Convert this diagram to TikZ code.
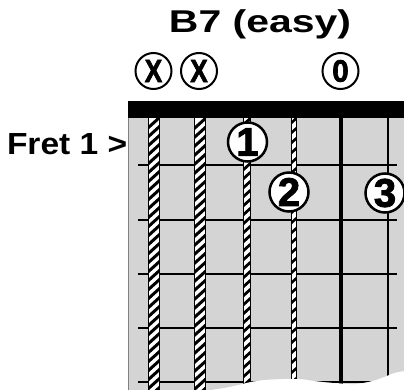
\documentclass[tikz,border=0pt]{standalone}
\usepackage{fontspec}
\setmainfont{Liberation Sans}
\newfontfamily\heavyfont{Liberation Sans Bold}[FakeBold=2.2]
\newfontfamily\boldtext{Liberation Sans Bold}
\definecolor{boardgray}{gray}{0.83}
\newcommand{\hatchstring}[4]{% x, width, period, linewidth
  \begin{scope}
    \clip (#1-#2/2,118) rectangle (#1+#2/2,392);
    \fill[white] (#1-#2/2,118) rectangle (#1+#2/2,392);
    \foreach \k in {0,...,55} {
      \draw[line width=#4] (#1-#2/2-1,118+\k*#3+0.9*#2+0.9) -- (#1+#2/2+1,118+\k*#3-0.9);
    }
  \end{scope}
  \draw[line width=1pt] (#1-#2/2,118) -- (#1-#2/2,392) (#1+#2/2,118) -- (#1+#2/2,392);
}
\begin{document}
\begin{tikzpicture}[x=1pt,y=-1pt,
  topmark/.style={circle,draw,line width=2pt,fill=white,minimum size=36pt,inner sep=0pt},
  finger/.style={circle,draw,line width=2.5pt,fill=white,minimum size=39pt,inner sep=0pt,font=\fontsize{40}{41}\heavyfont},
  fret/.style={line width=2pt},
  label/.style={inner sep=0pt,outer sep=0pt}]
\useasboundingbox (0,0) rectangle (404,390);
\fill[white] (0,0) rectangle (404,390);

% title and fret label
\node[label,anchor=base] (title) at (260,33) {\fontsize{31.5}{33}\boldtext\scalebox{1.3}[1]{B7 (easy)}};
\node[label,anchor=base west] (fretlabel) at (7,155) {\fontsize{30.5}{32}\boldtext\scalebox{1.1}[1]{Fret 1 >}};

% board
\begin{scope}
  \clip (128,118) -- (404,118) -- (404,371) -- plot[smooth] coordinates {(404,371) (394,373) (384,377) (372,381) (355,384) (335,383) (315,381) (300,379) (282,379) (264,380) (250,382) (238,385) (224,388) (210,390)} -- (128,392) -- cycle;
  \fill[boardgray] (128,100) rectangle (404,392);
  \foreach \y in {165,220,274,328,382} \draw[fret] (138,\y) -- (397,\y);
  \hatchstring{153.5}{11}{9}{3pt}
  \hatchstring{200.4}{11}{9}{3pt}
  \hatchstring{247.3}{7}{9}{2.8pt}
  \hatchstring{294.2}{5}{10}{2.6pt}
  \draw[line width=4pt] (341.1,118) -- (341.1,392);
  \draw[line width=2pt] (388,118) -- (388,392);
\end{scope}
\draw[gray,line width=0.8pt] (128,118) -- (128,390);
\fill (128,101) rectangle (404,118);

% open/muted marks
\node[topmark] (m1) at (153.5,71) {\fontsize{32}{33}\heavyfont\scalebox{0.82}[1]{X}};
\node[topmark] (m2) at (199,71) {\fontsize{32}{33}\heavyfont\scalebox{0.82}[1]{X}};
\node[topmark] (m5) at (340.5,71) {\fontsize{31}{32}\heavyfont\scalebox{0.95}[1]{0}};

% fingers
\node[finger] (f1) at (247.5,142) {1};
\node[finger] (f2) at (289,192) {2};
\node[finger] (f3) at (385,193) {3};
\end{tikzpicture}
\end{document}
